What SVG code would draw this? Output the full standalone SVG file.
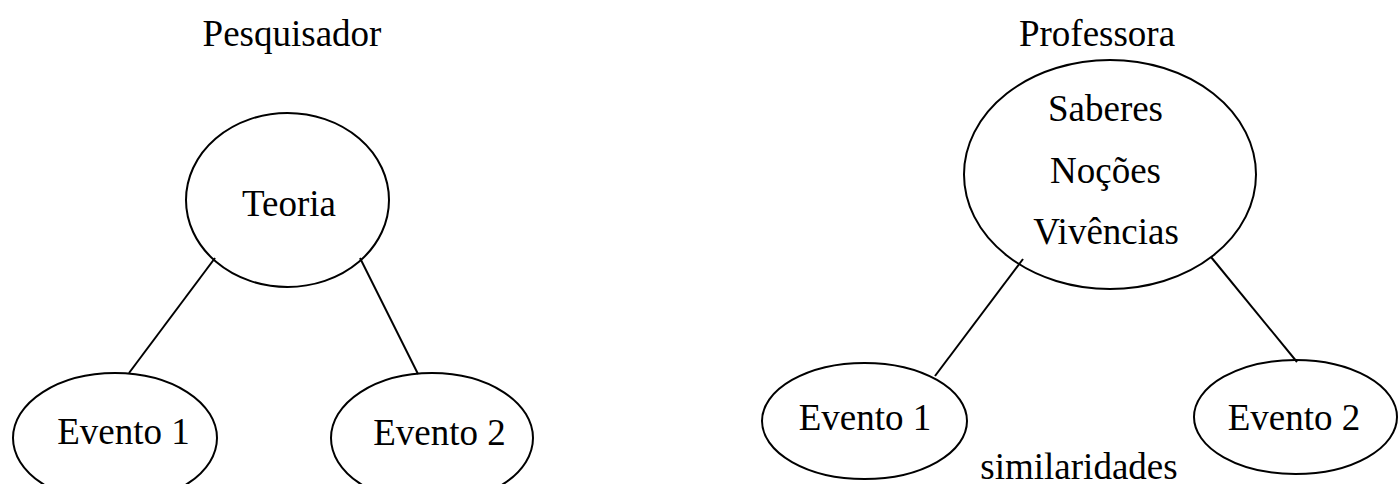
<svg xmlns="http://www.w3.org/2000/svg" width="1398" height="484" viewBox="0 0 1398 484">
<style>
.n{fill:none;stroke:#000;stroke-width:2}
.c{stroke:#000;stroke-width:2;fill:none}
.t{font-family:'Liberation Serif','DejaVu Serif',serif;font-size:37px;fill:#000;text-anchor:middle}
</style>
<rect width="1398" height="484" fill="#fff"/>
<text class="t" x="292" y="46">Pesquisador</text>
<text class="t" x="1097" y="46">Professora</text>
<g id="connectors">
<line class="c" x1="215" y1="258" x2="129" y2="373"/>
<line class="c" x1="360" y1="258" x2="418" y2="374"/>
<line class="c" x1="1023" y1="259" x2="935" y2="376"/>
<line class="c" x1="1211" y1="257" x2="1297" y2="362"/>
</g>
<g id="teoria">
<ellipse class="n" cx="287.5" cy="200" rx="101.5" ry="87"/>
<text class="t" x="289" y="216">Teoria</text>
</g>
<g id="evento1-left">
<ellipse class="n" cx="115" cy="438" rx="102" ry="65"/>
<text class="t" x="123.5" y="444">Evento 1</text>
</g>
<g id="evento2-left">
<ellipse class="n" cx="432" cy="438" rx="101" ry="65"/>
<text class="t" x="439.5" y="445">Evento 2</text>
</g>
<g id="saberes">
<ellipse class="n" cx="1110" cy="174.5" rx="146" ry="114.5"/>
<text class="t" x="1105.5" y="121">Saberes</text>
<text class="t" x="1105.5" y="183">Noções</text>
<text class="t" x="1106" y="244">Vivências</text>
</g>
<g id="evento1-right">
<ellipse class="n" cx="864.5" cy="421" rx="102.5" ry="58"/>
<text class="t" x="865" y="430">Evento 1</text>
</g>
<g id="evento2-right">
<ellipse class="n" cx="1295.5" cy="417" rx="101.5" ry="57"/>
<text class="t" x="1294" y="430">Evento 2</text>
</g>
<text class="t" x="1079" y="479">similaridades</text>
</svg>
